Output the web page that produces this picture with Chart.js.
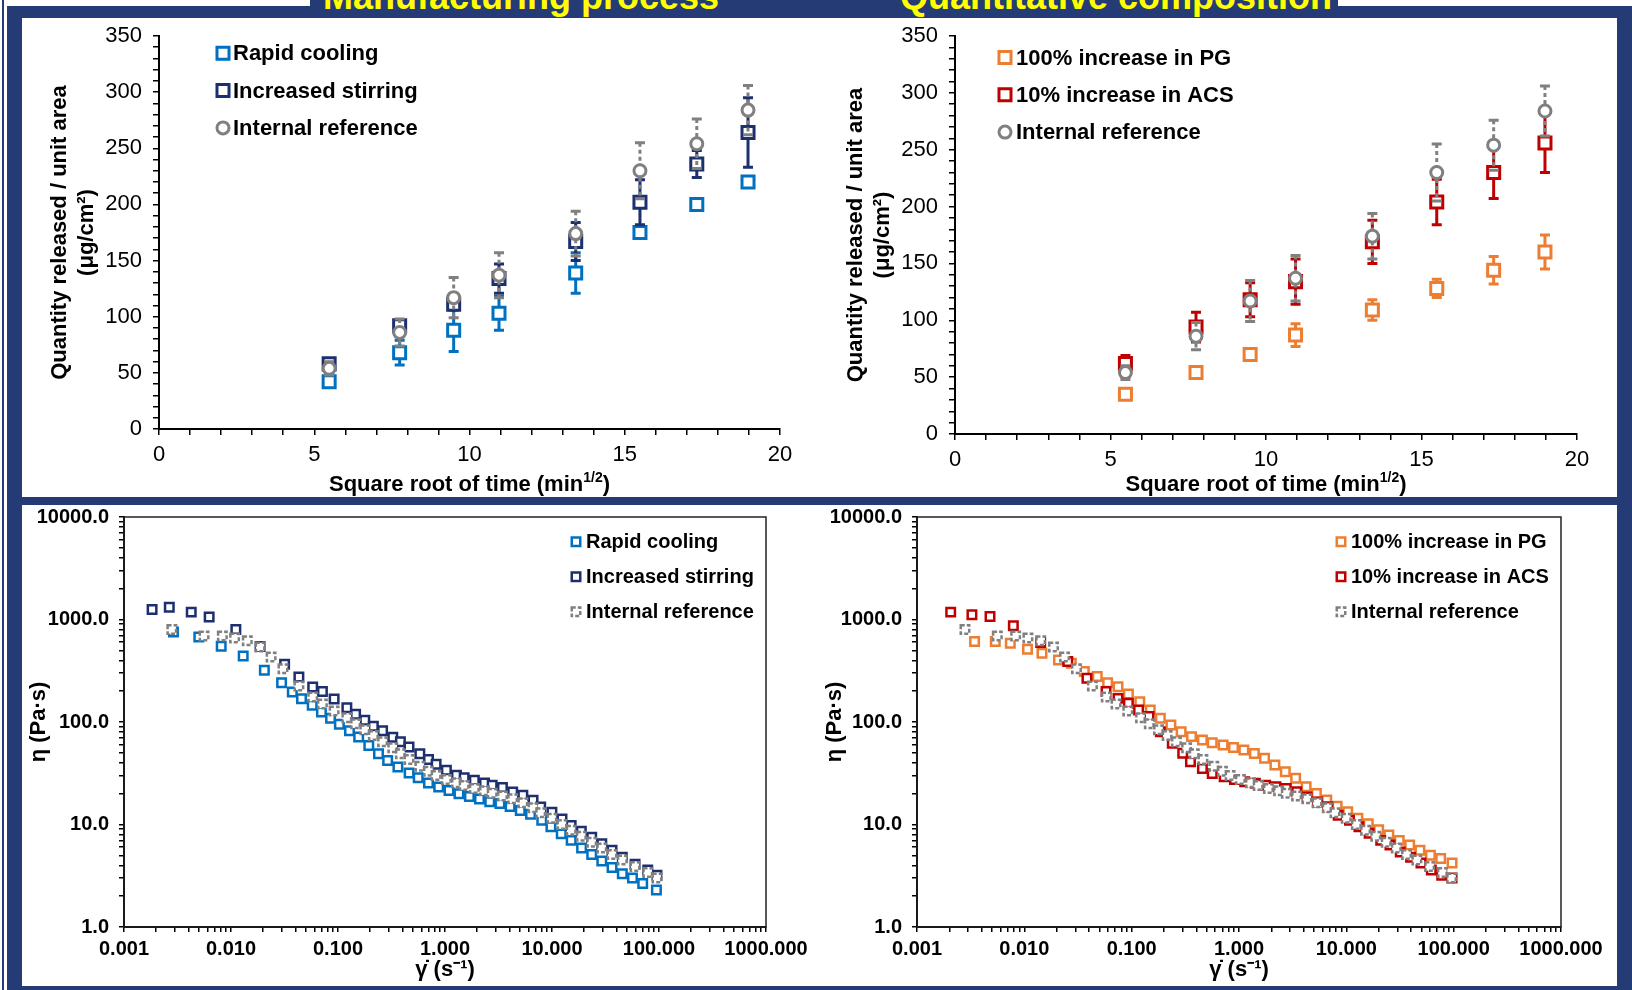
<!DOCTYPE html>
<html>
<head>
<meta charset="utf-8">
<title>Release and viscosity profiles</title>
<script src="https://cdn.jsdelivr.net/npm/chart.js@4.4.1/dist/chart.umd.min.js"></script>
<style>
  html, body { margin: 0; padding: 0; background: #fff; }
  #page { position: relative; width: 1632px; height: 990px; overflow: hidden; background: #fff;
          font-family: "Liberation Sans", Arial, Helvetica, sans-serif; }
  .navy { position: absolute; background: #243b75; }
  .panel { position: absolute; background: #fff; }
  .tab-title { position: absolute; top: -21px; width: 600px; text-align: center; color: #ffff00;
               font-weight: bold; font-size: 36px; line-height: 36px; white-space: nowrap; }
  canvas { position: absolute; }
</style>
</head>
<body>
<div id="page">
  <div class="navy" style="left:2px;top:0;width:2px;height:990px"></div>
  <div class="navy" style="left:7px;top:6px;width:1625px;height:984px"></div>
  <div class="navy" style="left:310px;top:0;width:1028px;height:18px"></div>
  <div class="tab-title" style="left:221px">Manufacturing process</div>
  <div class="tab-title" style="left:816px">Quantitative composition</div>
  <div class="panel" style="left:22px;top:18px;width:1595px;height:479px"></div>
  <div class="panel" style="left:22px;top:505px;width:1595px;height:481px"></div>

  <canvas id="releaseProcess" width="798" height="486" style="left:22px;top:11px"></canvas>
  <canvas id="releaseComposition" width="797" height="486" style="left:820px;top:11px"></canvas>
  <canvas id="viscosityProcess" width="798" height="492" style="left:22px;top:494px"></canvas>
  <canvas id="viscosityComposition" width="797" height="492" style="left:820px;top:494px"></canvas>
</div>

<script>
const FONT = '"Liberation Sans", Arial, Helvetica, sans-serif';
Chart.defaults.font.family = FONT;
Chart.defaults.color = '#000';

// ---- release test: square root of sampling time (min^1/2) ----
const sqrtTime = [5.48, 7.75, 9.49, 10.95, 13.42, 15.49, 17.32, 18.97];

const rapidCooling      = [42, 68, 88, 103, 139, 175, 200, 220];
const rapidCoolingSd    = [3, 11, 19, 15, 18, 4, 3, 3];
const increasedStirring   = [58, 92, 111, 134, 167, 202, 236, 264];
const increasedStirringSd = [4, 5, 5, 13, 17, 20, 12, 31];
const internalRef       = [54, 86, 117, 137, 174, 230, 254, 284];
const internalRefSd     = [6, 12, 18, 20, 20, 25, 22, 22];
const pgIncrease        = [35, 54, 70, 87, 109, 128, 144, 160];
const pgIncreaseSd      = [3, 3, 3, 10, 9, 8, 12, 15];
const acsIncrease       = [62, 94, 118, 134, 169, 204, 230, 256];
const acsIncreaseSd     = [7, 13, 15, 20, 19, 20, 23, 26];

// ---- flow curves: shear rate (1/s) and viscosity (Pa·s) ----
const rcRate = [0.0029, 0.0050, 0.0081, 0.013, 0.0205, 0.0297, 0.0374, 0.0456, 0.0574, 0.070,
  0.0852, 0.103, 0.128, 0.156, 0.194, 0.239, 0.291, 0.363, 0.462, 0.562,
  0.701, 0.873, 1.09, 1.35, 1.69, 2.10, 2.62, 3.26, 4.06, 5.05,
  6.30, 8.02, 9.77, 12.2, 15.1, 18.9, 23.5, 29.2, 36.4, 45.4, 56.5, 70.4, 94.6];
const rcEta = [755, 675, 547, 440, 319, 242, 196, 169, 146, 125,
  109, 95, 82, 71.5, 59, 49, 42, 36.4, 31.8, 28.6,
  25.4, 23.2, 21.5, 20, 18.8, 17.7, 16.7, 16, 15, 13.7,
  12.6, 11, 9.5, 8.1, 7.0, 5.9, 5.1, 4.4, 3.8, 3.3, 3.0, 2.65, 2.3];

const isRate = [0.00183, 0.00265, 0.00425, 0.00625, 0.0111, 0.0187, 0.0317, 0.0431, 0.058, 0.0715,
  0.092, 0.121, 0.146, 0.178, 0.214, 0.261, 0.325, 0.383, 0.461, 0.582,
  0.701, 0.826, 1.03, 1.28, 1.51, 1.88, 2.34, 2.76, 3.44, 4.29,
  5.34, 6.65, 7.84, 9.98, 12.4, 15.1, 18.8, 23.5, 29.2, 36.4, 45.4, 59.7, 78.5, 95.7];
const isEta = [1250, 1320, 1180, 1060, 800, 545, 365, 275, 220, 198,
  168, 138, 119, 104, 91, 82, 71, 64, 57, 49,
  43, 38.7, 33.8, 30.2, 28.6, 27, 25.4, 24.1, 22.9, 20.7,
  19.3, 17.2, 14.8, 13.2, 11.3, 9.8, 8.6, 7.5, 6.5, 5.6, 4.8, 4.1, 3.6, 3.2];

const irRate = [0.0028, 0.0056, 0.0083, 0.0108, 0.0142, 0.0187, 0.0237, 0.0306,
  0.0431, 0.058, 0.0715, 0.092, 0.121, 0.146, 0.178, 0.214,
  0.261, 0.325, 0.383, 0.461, 0.582, 0.701, 0.826, 1.03, 1.28,
  1.51, 1.88, 2.34, 2.76, 3.44, 4.29, 5.34, 6.65, 7.84, 9.98,
  12.4, 15.1, 18.8, 23.5, 29.2, 36.4, 45.4, 59.7, 78.5, 95.7];
const irEta = [800, 690, 690, 660, 620, 540, 430, 330,
  225, 175, 150, 128, 110, 96, 84, 74,
  64, 56, 49, 43, 37, 33, 30, 27.5, 25.5,
  24, 22.5, 21.3, 20.2, 19, 17.8, 16.3, 14.6, 13, 11.5,
  10, 8.8, 7.7, 6.7, 5.9, 5.1, 4.5, 3.9, 3.4, 3.0];

const pgRate = [0.00344, 0.00536, 0.0074, 0.0107, 0.0146, 0.0208, 0.0274, 0.0362, 0.0478, 0.0597,
  0.0746, 0.0932, 0.119, 0.149, 0.185, 0.232, 0.289, 0.361, 0.456, 0.563,
  0.711, 0.889, 1.11, 1.39, 1.73, 2.16, 2.70, 3.37, 4.22, 5.26,
  6.57, 8.21, 10.3, 12.8, 16.0, 20.0, 24.9, 31.1, 38.9, 48.5, 60.7, 75.7, 96.6];
const pgEta = [610, 610, 587, 513, 469, 403, 374, 311, 278, 242,
  221, 188, 158, 131, 109, 93.5, 80.5, 72, 66.7, 62.8,
  59.6, 56.5, 53.2, 49.4, 44.2, 38, 32.7, 28.2, 23.3, 20.1,
  17.3, 15.1, 13.3, 11.5, 10.2, 8.9, 7.9, 7.0, 6.3, 5.6, 5.0, 4.65, 4.2];

const acsRate = [0.00206, 0.00325, 0.00479, 0.0079, 0.0142, 0.0254, 0.0383, 0.0577, 0.0746, 0.0932,
  0.116, 0.145, 0.185, 0.239, 0.299, 0.353, 0.456, 0.563, 0.727, 0.908,
  1.13, 1.42, 1.77, 2.21, 2.76, 3.45, 4.31, 5.38, 6.72, 8.39,
  10.7, 13.1, 16.3, 20.9, 25.5, 31.8, 39.7, 49.6, 61.9, 77.4, 96.6];
const acsEta = [1180, 1112, 1070, 867, 596, 389, 267, 198, 170, 152,
  131, 113, 80.5, 62, 49.5, 41, 35.2, 31.5, 29.2, 27.5,
  26.1, 25.2, 24.2, 23.3, 22.5, 20.9, 18.6, 16.6, 14.9, 12.3,
  11, 9.5, 8.2, 7.0, 6.3, 5.4, 4.8, 4.2, 3.6, 3.2, 3.0];

const BLUE = '#0070c0', NAVY = '#1c2f6e', GREY = '#808080', ORANGE = '#ed7d31', RED = '#c00000';

function points(xs, ys) {
  return xs.map((x, i) => ({x: x, y: ys[i]}));
}

// error bars go under the markers; reference squares get a dashed outline
const markerExtras = {
  id: 'markerExtras',
  beforeDatasetDraw(chart, args) {
    const ds = chart.data.datasets[args.index];
    const ctx = chart.ctx;
    if (ds.errors) {
      const yScale = chart.scales.y;
      ctx.save();
      ctx.strokeStyle = ds.borderColor;
      ctx.lineWidth = 3;
      args.meta.data.forEach((pt, i) => {
        const v = ds.data[i].y, e = ds.errors[i];
        const top = yScale.getPixelForValue(v + e);
        const bot = yScale.getPixelForValue(v - e);
        ctx.setLineDash(ds.errorDash || []);
        ctx.beginPath();
        ctx.moveTo(pt.x, top);
        ctx.lineTo(pt.x, bot);
        ctx.stroke();
        ctx.setLineDash([]);
        ctx.beginPath();
        ctx.moveTo(pt.x - 5, top); ctx.lineTo(pt.x + 5, top);
        ctx.moveTo(pt.x - 5, bot); ctx.lineTo(pt.x + 5, bot);
        ctx.stroke();
      });
      ctx.restore();
    }
    ctx.setLineDash(ds.markerDash || []);
  },
  afterDatasetDraw(chart) {
    chart.ctx.setLineDash([]);
  }
};

// legend drawn inside the plot, one row per series
const boxLegend = {
  id: 'boxLegend',
  afterDraw(chart, args, opts) {
    const ctx = chart.ctx;
    ctx.save();
    ctx.font = opts.font;
    ctx.textBaseline = 'middle';
    chart.data.datasets.forEach((ds, i) => {
      const y = opts.y + i * opts.dy;
      ctx.save();
      ctx.strokeStyle = ds.borderColor;
      ctx.fillStyle = '#fff';
      ctx.lineWidth = ds.pointBorderWidth;
      ctx.setLineDash(ds.markerDash || []);
      Chart.helpers.drawPoint(ctx, {
        pointStyle: ds.pointStyle, rotation: 0,
        radius: ds.pointRadius, borderWidth: ds.pointBorderWidth
      }, opts.x, y);
      ctx.restore();
      ctx.fillStyle = '#000';
      ctx.fillText(ds.label, opts.textX, y + 1);
    });
    ctx.restore();
  }
};

// x title with a superscript exponent
const supTitle = {
  id: 'supTitle',
  afterDraw(chart, args, opts) {
    const ctx = chart.ctx;
    const area = chart.chartArea;
    const big = 'bold 22px ' + FONT, small = 'bold 14px ' + FONT;
    ctx.save();
    ctx.fillStyle = '#000';
    ctx.textBaseline = 'alphabetic';
    let total = 0;
    opts.parts.forEach(p => { ctx.font = p[1] ? small : big; total += ctx.measureText(p[0]).width; });
    let x = (area.left + area.right) / 2 - total / 2;
    opts.parts.forEach(p => {
      ctx.font = p[1] ? small : big;
      ctx.fillText(p[0], x, p[1] ? opts.y - 9 : opts.y);
      x += ctx.measureText(p[0]).width;
    });
    ctx.restore();
  }
};

// thin box round the flow-curve plots
const plotFrame = {
  id: 'plotFrame',
  beforeDatasetsDraw(chart) {
    const {left, top, right, bottom} = chart.chartArea;
    const ctx = chart.ctx;
    ctx.save();
    ctx.strokeStyle = '#222';
    ctx.lineWidth = 1.5;
    ctx.strokeRect(left, top, right - left, bottom - top);
    ctx.restore();
  }
};

const axisGrid = {display: true, drawOnChartArea: false, drawTicks: true, tickLength: 6,
  color: '#000', tickColor: '#000', lineWidth: 1.5};
const axisBorder = {display: true, color: '#000', width: 2};

function releaseSeries(label, ys, sd, color, style) {
  return {
    label: label,
    data: points(sqrtTime, ys),
    errors: sd,
    borderColor: color,
    backgroundColor: '#fff',
    pointStyle: style,
    pointRadius: style === 'circle' ? 6 : 8.5,
    pointHoverRadius: style === 'circle' ? 6 : 8.5,
    pointBorderWidth: 3,
    pointBackgroundColor: '#fff',
    pointBorderColor: color
  };
}

function flowSeries(label, xs, ys, color) {
  return {
    label: label,
    data: points(xs, ys),
    borderColor: color,
    backgroundColor: '#fff',
    pointStyle: 'rect',
    pointRadius: 6,
    pointHoverRadius: 6,
    pointBorderWidth: 2.5,
    pointBackgroundColor: '#fff',
    pointBorderColor: color
  };
}

function release_chart(canvas, datasets, box) {
  const config = {
    type: 'scatter',
    data: {datasets: datasets},
    options: {
      responsive: false,
      animation: false,
      devicePixelRatio: 1,
      events: [],
      layout: {padding: {left: 0, top: 25, right: box.right, bottom: 0}},
      plugins: {
        legend: {display: false},
        tooltip: {enabled: false},
        boxLegend: {x: box.legendX, textX: box.legendTextX, y: box.legendY, dy: 37.3, font: 'bold 22px ' + FONT},
        supTitle: {y: 480, parts: [['Square root of time (min', false], ['1/2', true], [')', false]]}
      },
      scales: {
        x: {
          type: 'linear', min: 0, max: 20,
          afterFit: (s) => { s.height = box.xHeight; },
          ticks: {stepSize: 1, autoSkip: false, maxRotation: 0, padding: 7, font: {size: 22},
            callback: (v) => (v % 5 === 0 ? String(v) : '')},
          grid: axisGrid,
          border: axisBorder
        },
        y: {
          type: 'linear', min: 0, max: 350,
          afterFit: (s) => { s.width = box.yWidth; },
          ticks: {stepSize: 10, autoSkip: false, padding: 11, font: {size: 22},
            callback: (v) => (v % 50 === 0 ? String(v) : '')},
          grid: axisGrid,
          border: axisBorder,
          title: {display: true, text: ['Quantity released / unit area', '(μg/cm²)'],
            font: {size: 22, weight: 'bold'}, padding: {top: box.titlePad, bottom: 0}}
        }
      }
    },
    plugins: [markerExtras, boxLegend, supTitle]
  };
  return new Chart(canvas, config);
}

function decadeTicks(lo, hi) {
  const ticks = [];
  for (let d = lo; d < hi; d++) {
    for (let k = 1; k <= 9; k++) ticks.push({value: Number((k * Math.pow(10, d)).toPrecision(6))});
  }
  ticks.push({value: Math.pow(10, hi)});
  return ticks;
}

function isDecade(v) {
  const l = Math.log10(v);
  return Math.abs(l - Math.round(l)) < 1e-9;
}

function viscosity_chart(canvas, datasets, box) {
  const config = {
    type: 'scatter',
    data: {datasets: datasets},
    options: {
      responsive: false,
      animation: false,
      devicePixelRatio: 1,
      events: [],
      layout: {padding: {left: 0, top: 23, right: box.right, bottom: 0}},
      plugins: {
        legend: {display: false},
        tooltip: {enabled: false},
        boxLegend: {x: box.legendX, textX: box.legendTextX, y: 47.7, dy: 35, font: 'bold 20px ' + FONT}
      },
      scales: {
        x: {
          type: 'logarithmic', min: 0.001, max: 1000,
          afterFit: (s) => { s.height = 59; },
          afterBuildTicks: (s) => { s.ticks = decadeTicks(-3, 3); },
          ticks: {autoSkip: false, maxRotation: 0, padding: 5, font: {size: 20, weight: 'bold'},
            callback: (v) => (isDecade(v) ? v.toFixed(3) : '')},
          grid: Object.assign({}, axisGrid, {tickLength: 5}),
          border: axisBorder,
          title: {display: true, text: 'γ̇ (s⁻¹)', font: {size: 22, weight: 'bold'}, padding: {top: 0, bottom: 3}}
        },
        y: {
          type: 'logarithmic', min: 1, max: 10000,
          afterFit: (s) => { s.width = box.yWidth; },
          afterBuildTicks: (s) => { s.ticks = decadeTicks(0, 4); },
          ticks: {autoSkip: false, padding: 10, font: {size: 20, weight: 'bold'},
            callback: (v) => (isDecade(v) ? v.toFixed(1) : '')},
          grid: Object.assign({}, axisGrid, {tickLength: 5}),
          border: axisBorder,
          title: {display: true, text: 'η (Pa·s)', font: {size: 22, weight: 'bold'},
            padding: {top: box.titlePad, bottom: 0}}
        }
      }
    },
    plugins: [plotFrame, markerExtras, boxLegend]
  };
  return new Chart(canvas, config);
}

// series later in the list sit on top, so the reference is drawn last
const refRelease = Object.assign(releaseSeries('Internal reference', internalRef, internalRefSd, GREY, 'circle'),
  {errorDash: [4, 3], order: 1});

release_chart(document.getElementById('releaseProcess'), [
  Object.assign(releaseSeries('Rapid cooling', rapidCooling, rapidCoolingSd, BLUE, 'rect'), {order: 3}),
  Object.assign(releaseSeries('Increased stirring', increasedStirring, increasedStirringSd, NAVY, 'rect'), {order: 2}),
  refRelease
], {yWidth: 137, xHeight: 68, right: 40, titlePad: 25, legendX: 201, legendTextX: 211, legendY: 42.3});

release_chart(document.getElementById('releaseComposition'), [
  Object.assign(releaseSeries('100% increase in PG', pgIncrease, pgIncreaseSd, ORANGE, 'rect'), {order: 3}),
  Object.assign(releaseSeries('10% increase in ACS', acsIncrease, acsIncreaseSd, RED, 'rect'), {order: 2}),
  Object.assign({}, refRelease)
], {yWidth: 135, xHeight: 63, right: 40, titlePad: 23, legendX: 185, legendTextX: 196, legendY: 46.5});

const refFlow = Object.assign(flowSeries('Internal reference', irRate, irEta, GREY), {markerDash: [4, 2], order: 1});

viscosity_chart(document.getElementById('viscosityProcess'), [
  Object.assign(flowSeries('Rapid cooling', rcRate, rcEta, BLUE), {order: 3}),
  Object.assign(flowSeries('Increased stirring', isRate, isEta, NAVY), {order: 2}),
  refFlow
], {yWidth: 102, right: 54, titlePad: 4, legendX: 554, legendTextX: 564});

viscosity_chart(document.getElementById('viscosityComposition'), [
  Object.assign(flowSeries('100% increase in PG', pgRate, pgEta, ORANGE), {order: 3}),
  Object.assign(flowSeries('10% increase in ACS', acsRate, acsEta, RED), {order: 2}),
  Object.assign({}, refFlow)
], {yWidth: 97, right: 56, titlePad: 2, legendX: 521, legendTextX: 531});
</script>
</body>
</html>
